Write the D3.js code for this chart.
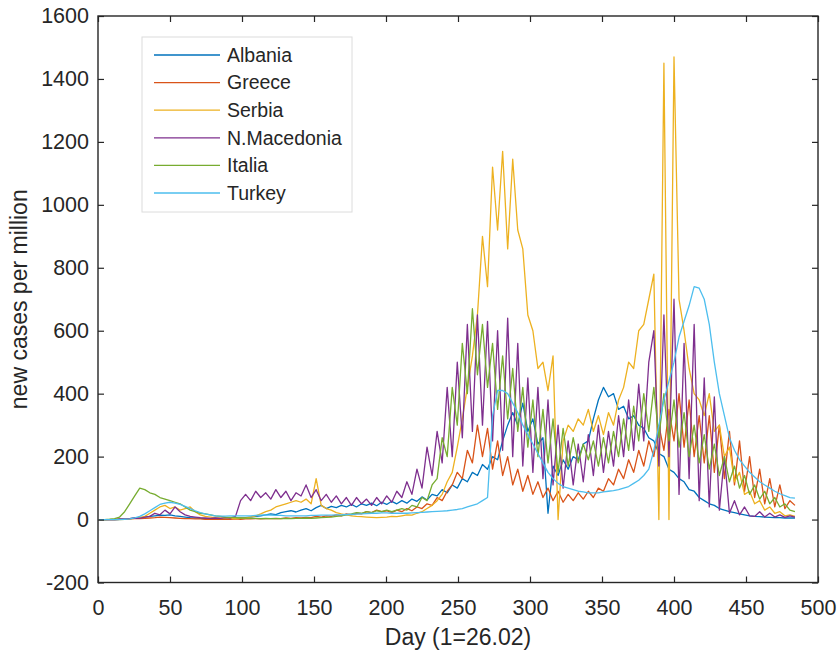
<!DOCTYPE html>
<html>
<head>
<meta charset="utf-8">
<script src="https://cdn.jsdelivr.net/npm/d3@7"></script>
<style>
body { margin: 0; background: #fff; }
text { font-family: "Liberation Sans", Arial, sans-serif; fill: #262626; }
</style>
</head>
<body>
<svg id="chart" width="837" height="659"></svg>
<script>
// one value every 3.5 days, first value on day 1
var dayStart = 1;
var dayStep = 3.5;

var countries = ["Albania", "Greece", "Serbia", "N.Macedonia", "Italia", "Turkey"];
var colors = ["#0072BD", "#D95319", "#EDB120", "#7E2F8E", "#77AC30", "#4DBEEE"];

var albania = [
    0,0,0,0,1,2,3,5,6,8,
    10,12,14,13,15,12,10,8,6,5,
    4,3,3,4,3,4,5,4,5,6,
    8,10,12,15,18,16,22,25,28,24,
    30,35,28,38,45,35,42,38,45,40,
    48,40,50,45,52,44,55,48,58,50,
    60,52,65,58,72,62,80,75,95,85,
    110,100,130,120,150,140,175,160,200,190,
    250,300,340,300,370,280,320,240,260,20,
    170,140,190,160,200,190,240,250,320,380,
    420,390,400,350,360,320,330,300,290,260,
    250,210,200,160,150,130,120,95,90,70,
    60,50,45,35,30,25,22,18,15,12,
    10,9,8,7,6,6,5,5,5
];
var greece = [
    0,0,0,0,1,2,2,3,3,4,
    5,6,8,7,6,5,4,3,3,2,
    2,1,1,1,1,1,1,2,1,2,
    2,3,2,3,3,4,3,5,4,6,
    5,7,6,10,8,12,10,15,12,18,
    15,20,18,25,22,30,25,28,22,30,
    25,35,28,40,35,50,45,70,60,90,
    110,150,130,220,180,300,200,290,160,250,
    140,200,110,160,90,140,80,120,70,100,
    60,90,55,80,60,85,65,90,70,100,
    90,130,110,160,130,190,150,220,170,250,
    200,300,220,350,250,400,230,380,200,330,
    180,330,150,300,130,280,110,250,90,200,
    70,160,50,130,40,110,35,60,45
];
var serbia = [
    0,0,0,0,0,1,2,4,6,10,
    20,30,40,45,35,40,30,35,40,25,
    15,10,8,6,5,4,4,3,4,5,
    8,12,18,25,30,40,45,50,55,60,
    55,65,50,130,45,35,30,22,18,15,
    12,10,9,8,7,6,7,8,10,9,
    12,15,14,20,25,35,45,60,80,120,
    150,230,320,420,520,650,900,740,1120,920,
    1170,860,1145,920,860,650,600,480,500,410,
    520,0,250,300,280,320,300,350,280,330,
    270,340,300,380,420,500,480,600,620,700,
    780,0,1450,0,1470,700,600,480,400,380,
    330,400,280,300,200,230,120,150,80,90,
    50,60,30,40,20,25,12,15,10
];
var macedonia = [
    0,0,0,0,1,2,3,5,4,8,
    10,20,15,30,18,40,25,15,10,8,
    6,5,4,5,4,6,5,10,60,80,
    60,90,70,85,65,95,70,90,60,85,
    75,110,70,95,60,80,55,75,50,70,
    45,70,50,65,45,70,50,75,55,90,
    70,120,80,160,100,230,140,280,180,420,
    200,500,260,620,280,650,300,630,250,600,
    220,640,200,560,170,450,150,420,130,380,
    110,300,100,250,110,240,120,270,140,300,
    150,280,170,330,200,380,220,430,250,500,
    600,170,650,200,700,80,560,130,620,60,
    450,40,390,30,200,20,60,15,40,12,
    10,25,8,20,8,15,7,12,8
];
var italia = [
    0,0,1,3,8,25,50,75,100,95,
    85,80,70,65,60,55,50,40,30,25,
    20,18,15,12,10,8,7,6,5,5,
    4,4,3,4,3,3,3,4,3,4,
    4,5,4,5,6,7,8,10,12,15,
    18,22,20,25,22,28,25,30,25,30,
    35,30,45,40,70,60,110,130,260,200,
    420,300,560,400,670,460,620,420,560,350,
    520,320,480,280,420,230,380,200,350,180,
    320,150,290,170,260,180,240,190,250,170,
    260,180,280,200,320,220,360,250,400,280,
    420,260,400,250,380,230,340,200,300,180,
    270,160,240,140,200,120,170,100,140,80,
    110,65,90,50,70,40,50,30,25
];
var turkey = [
    0,0,0,0,0,1,2,5,10,18,
    28,38,48,52,55,52,48,42,35,28,
    22,18,15,12,11,11,12,12,12,12,
    12,13,14,15,14,13,13,12,12,12,
    12,12,13,13,14,14,14,15,15,16,
    16,17,18,19,20,20,21,21,20,20,
    20,20,21,22,23,24,25,26,27,28,
    30,32,35,40,45,50,60,70,330,410,
    410,400,370,340,300,270,240,210,180,150,
    130,115,105,100,95,90,88,85,85,85,
    88,90,92,95,100,105,115,125,140,160,
    220,300,380,440,500,580,630,680,740,735,
    700,620,500,400,330,260,220,190,170,150,
    135,120,110,100,90,82,76,70,68
];

var series = [albania, greece, serbia, macedonia, italia, turkey];

var xTicks = [0, 50, 100, 150, 200, 250, 300, 350, 400, 450, 500];
var yTicks = [-200, 0, 200, 400, 600, 800, 1000, 1200, 1400, 1600];

var width = 837, height = 659;
var margin = { top: 16, right: 19, bottom: 76.5, left: 98 };
var axisColor = "#262626";

var svg = d3.select("#chart");

var x = d3.scaleLinear().domain([0, 500]).range([margin.left, width - margin.right]);
var y = d3.scaleLinear().domain([-200, 1600]).range([height - margin.bottom, margin.top]);

svg.append("defs")
  .append("clipPath")
    .attr("id", "plot-area")
  .append("rect")
    .attr("x", x(0))
    .attr("y", y(1600))
    .attr("width", x(500) - x(0))
    .attr("height", y(-200) - y(1600));

// lines, one per country
var line = d3.line()
    .x(function(d, i) { return x(dayStart + i * dayStep); })
    .y(function(d) { return y(d); });

svg.append("g")
    .attr("clip-path", "url(#plot-area)")
  .selectAll("path")
  .data(series)
  .enter()
  .append("path")
    .attr("d", line)
    .attr("fill", "none")
    .attr("stroke", function(d, i) { return colors[i]; })
    .attr("stroke-width", 1.3)
    .attr("stroke-linejoin", "round");

// plain numbers, hyphen minus like matlab
var plain = function(d) { return String(d); };

// axes: ticks point inward on all four sides
function styleAxis(g) {
    g.select(".domain").remove();
    g.selectAll(".tick line").attr("stroke", axisColor).attr("stroke-width", 1.2);
    g.selectAll(".tick text")
        .style("font-family", "'Liberation Sans', Arial, sans-serif")
        .style("font-size", "21.5px")
        .attr("fill", axisColor);
}

svg.append("g")
    .attr("transform", "translate(0," + y(-200) + ")")
    .call(d3.axisBottom(x).tickValues(xTicks).tickSize(-6).tickPadding(17).tickFormat(plain))
    .call(styleAxis);

svg.append("g")
    .attr("transform", "translate(0," + y(1600) + ")")
    .call(d3.axisTop(x).tickValues(xTicks).tickSize(-6).tickFormat(""))
    .call(styleAxis);

svg.append("g")
    .attr("transform", "translate(" + x(0) + ",0)")
    .call(d3.axisLeft(y).tickValues(yTicks).tickSize(-6).tickPadding(9).tickFormat(plain))
    .call(styleAxis);

svg.append("g")
    .attr("transform", "translate(" + x(500) + ",0)")
    .call(d3.axisRight(y).tickValues(yTicks).tickSize(-6).tickFormat(""))
    .call(styleAxis);

svg.append("rect")
    .attr("x", x(0))
    .attr("y", y(1600))
    .attr("width", x(500) - x(0))
    .attr("height", y(-200) - y(1600))
    .attr("fill", "none")
    .attr("stroke", axisColor)
    .attr("stroke-width", 1.4);

// axis titles
svg.append("text")
    .attr("x", (x(0) + x(500)) / 2)
    .attr("y", 645)
    .attr("text-anchor", "middle")
    .style("font-size", "23px")
    .text("Day (1=26.02)");

svg.append("text")
    .attr("transform", "translate(27," + ((y(-200) + y(1600)) / 2) + ") rotate(-90)")
    .attr("text-anchor", "middle")
    .style("font-size", "23px")
    .text("new cases per million");

// legend
var legend = svg.append("g");

legend.append("rect")
    .attr("x", 142)
    .attr("y", 37)
    .attr("width", 210)
    .attr("height", 175)
    .attr("fill", "#fff")
    .attr("stroke", "#dcdcdc")
    .attr("stroke-width", 1);

var item = legend.selectAll(".item")
    .data(countries)
    .enter()
    .append("g")
    .attr("class", "item")
    .attr("transform", function(d, i) { return "translate(0," + (55 + i * 27.6) + ")"; });

item.append("line")
    .attr("x1", 154)
    .attr("x2", 220)
    .attr("stroke", function(d, i) { return colors[i]; })
    .attr("stroke-width", 1.3);

item.append("text")
    .attr("x", 227)
    .attr("dy", "0.35em")
    .style("font-size", "19.5px")
    .text(function(d) { return d; });
</script>
</body>
</html>
